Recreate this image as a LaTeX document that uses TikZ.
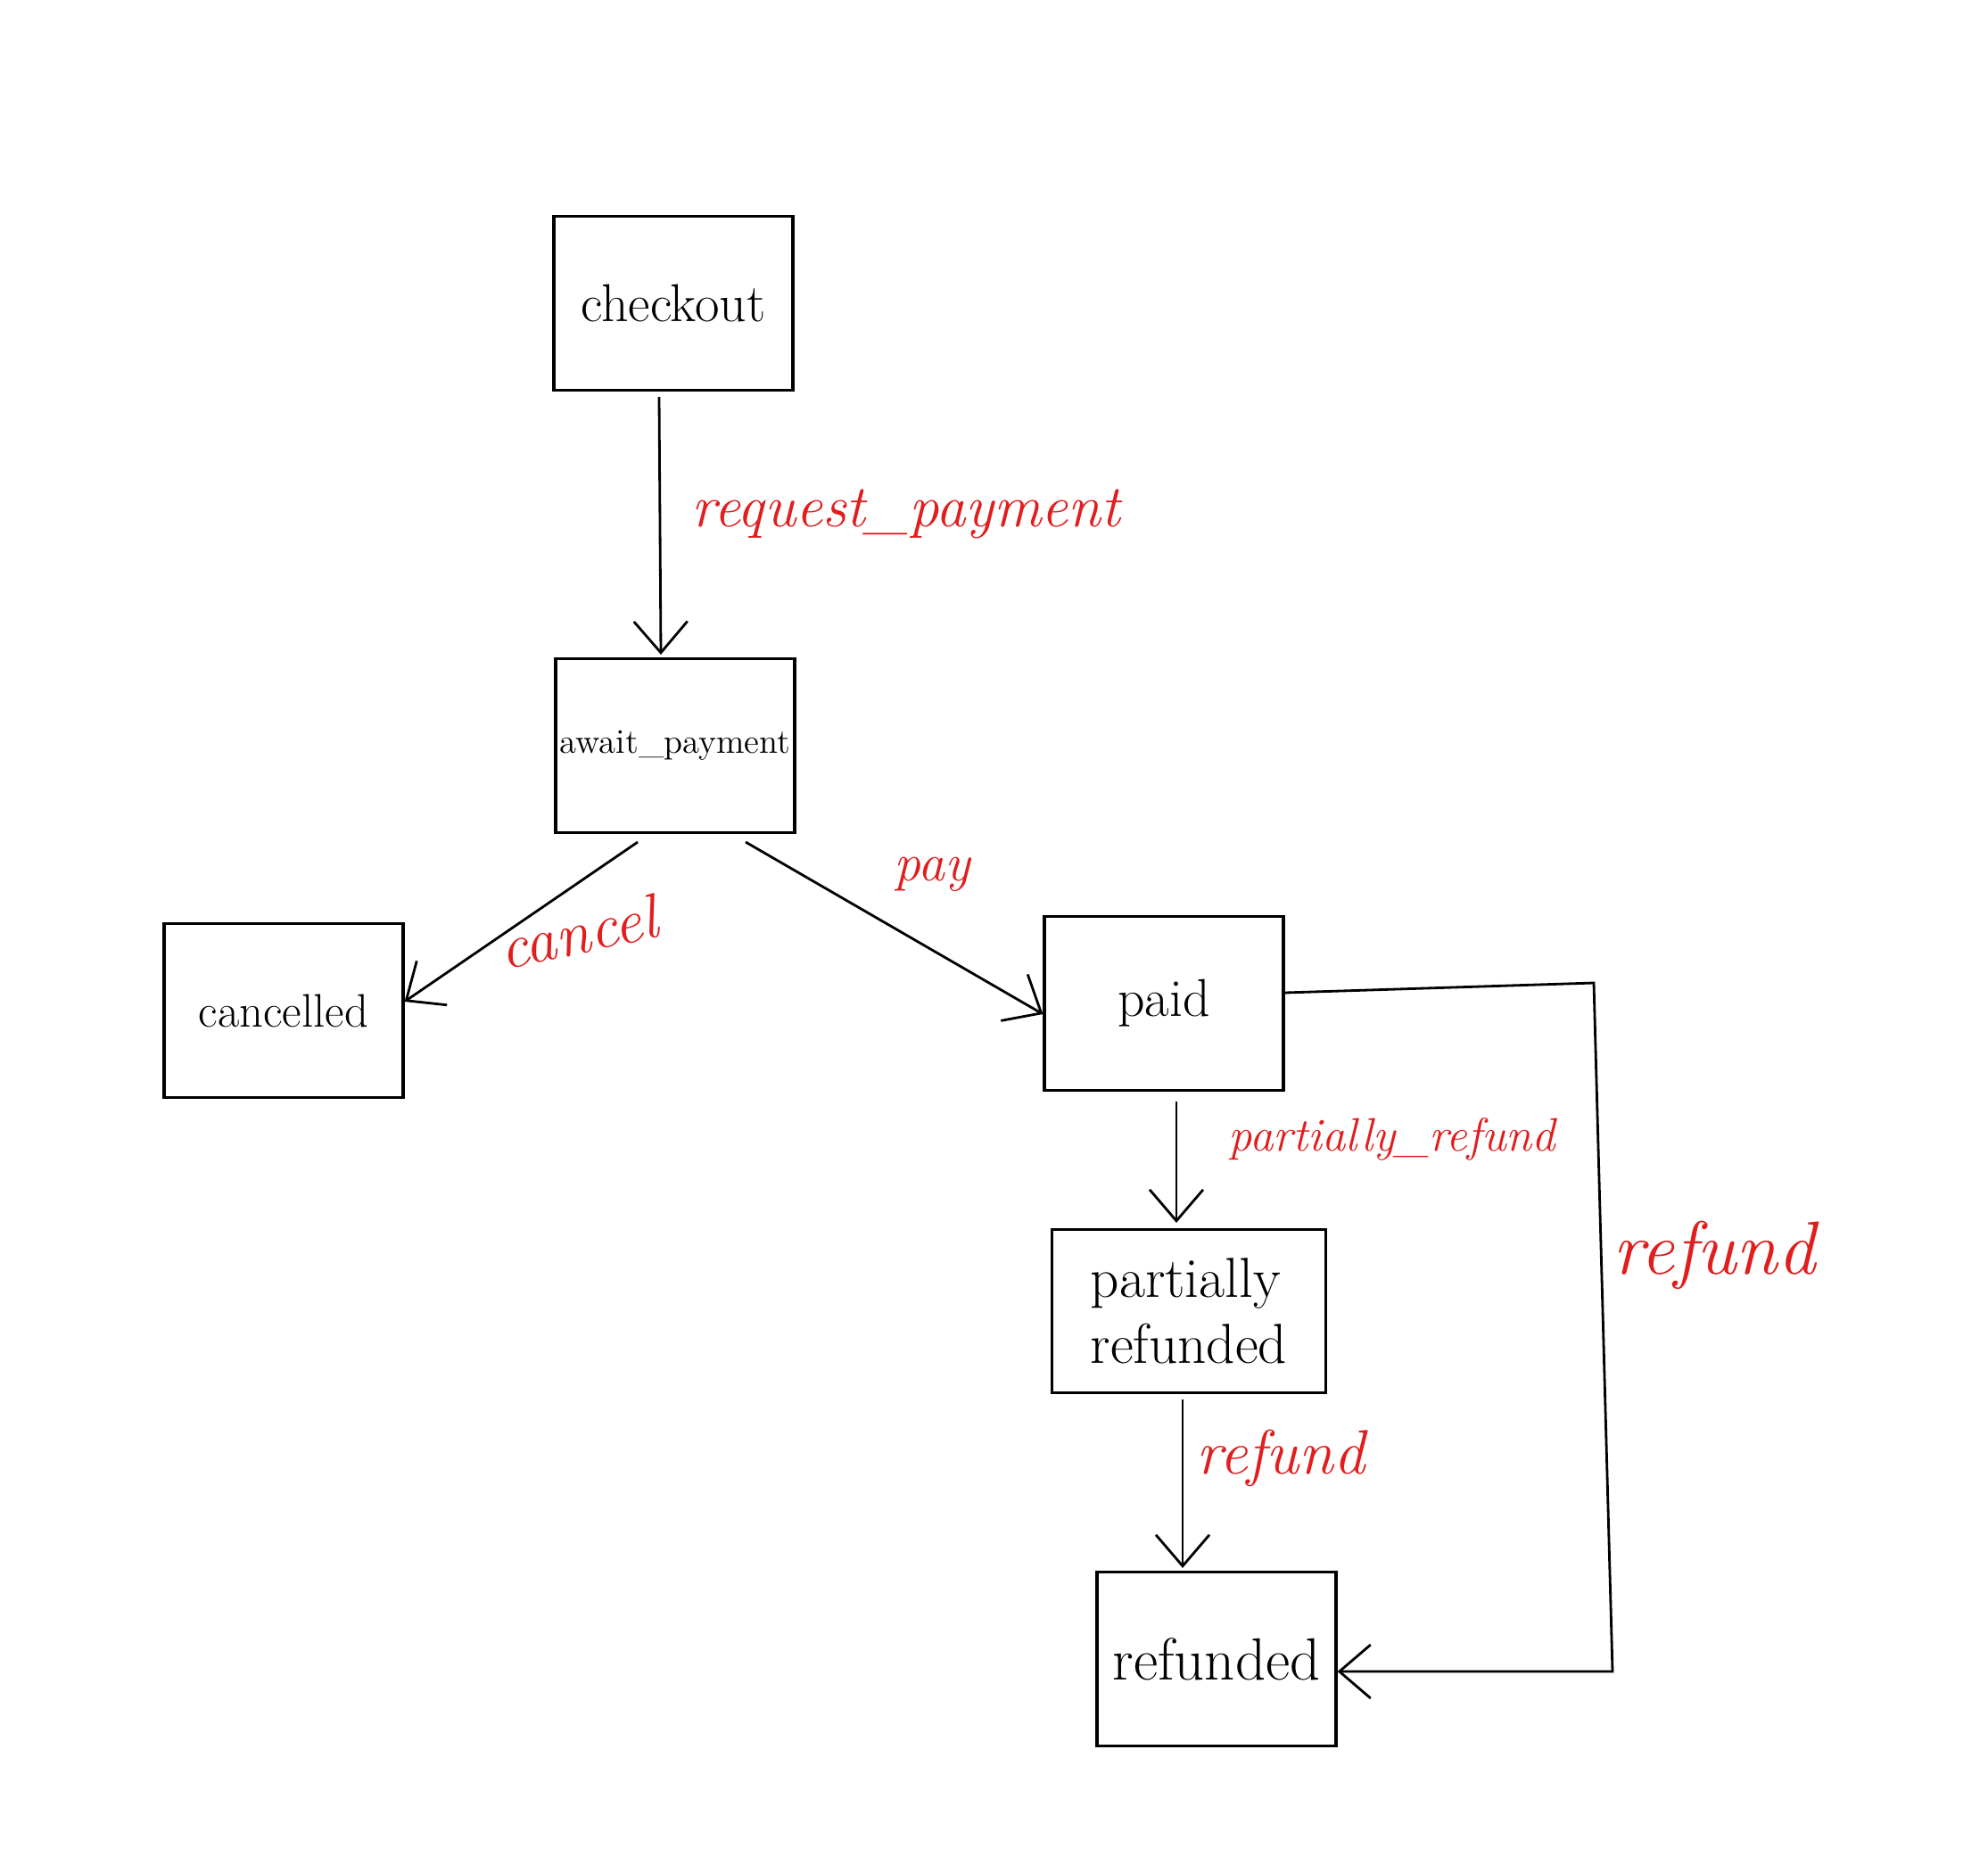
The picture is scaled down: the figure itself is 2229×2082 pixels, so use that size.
\documentclass[tikz,border=0pt]{standalone}
\usetikzlibrary{arrows.meta}
\definecolor{inkred}{RGB}{225,30,30}
\begin{document}
\begin{tikzpicture}[x=0.1mm,y=-0.1mm,
  state/.style={draw,line width=0.9pt,minimum width=26.8mm,minimum height=19.5mm,inner sep=0pt,font=\fontsize{17}{20}\selectfont,align=left},
  trans/.style={line width=0.8pt,-{Straight Barb[length=3.5mm,width=6mm,line width=0.8pt]}},
  lab/.style={text=inkred,font=\itshape\fontsize{20}{24}\selectfont}]
\useasboundingbox (0,0) rectangle (2229,2082);
\node[state] (checkout) at (755,340) {checkout};
\node[state,font=\fontsize{11}{13}\selectfont] (await) at (757,836) {await\_payment};
\node[state,font=\fontsize{15}{18}\selectfont] (cancelled) at (318,1133) {cancelled};
\node[state] (paid) at (1305,1125) {paid};
\node[state,minimum width=30.7mm,minimum height=18.3mm,font=\fontsize{18}{21}\selectfont] (partial) at (1333,1470) {partially\\refunded};
\node[state,font=\fontsize{19}{22}\selectfont] (refunded) at (1364,1860) {refunded};
\coordinate (r1) at (1787,1102);
\coordinate (r2) at (1808,1874);
\draw[trans] ([xshift=-1.6mm,yshift=-0.6mm]checkout.south) -- ([xshift=-1.6mm,yshift=0.3mm]await.north);
\draw[trans] ([xshift=-4.2mm,yshift=-0.9mm]await.south) -- ([yshift=1mm]cancelled.east);
\draw[trans] ([xshift=7.9mm,yshift=-0.9mm]await.south) -- ([yshift=-1.2mm]paid.west);
\draw[trans] ([xshift=1.4mm,yshift=-1.1mm]paid.south) -- ([xshift=1.4mm,yshift=0.6mm]paid.south |- partial.north);
\draw[trans] ([xshift=-0.7mm,yshift=-0.6mm]partial.south) -- ([xshift=-0.7mm,yshift=0.3mm]partial.south |- refunded.north);
\draw[trans] ([yshift=1.2mm]paid.east) -- (r1) -- (r2) -- ([yshift=-1.4mm]refunded.east);
\node[lab,font=\itshape\fontsize{19}{22}\selectfont] (l1) at (1016,576) {request\_payment};
\node[lab,font=\itshape\fontsize{17}{20}\selectfont] (l2) at (1045,980) {pay};
\node[lab,rotate=12] (l3) at (648,1045) {cancel};
\node[lab,font=\itshape\fontsize{15}{18}\selectfont] (l4) at (1561,1277) {partially\_refund};
\node[lab,font=\itshape\fontsize{24}{28}\selectfont] (l5) at (1922,1407) {refund};
\node[lab] (l6) at (1436,1635) {refund};
\end{tikzpicture}
\end{document}
